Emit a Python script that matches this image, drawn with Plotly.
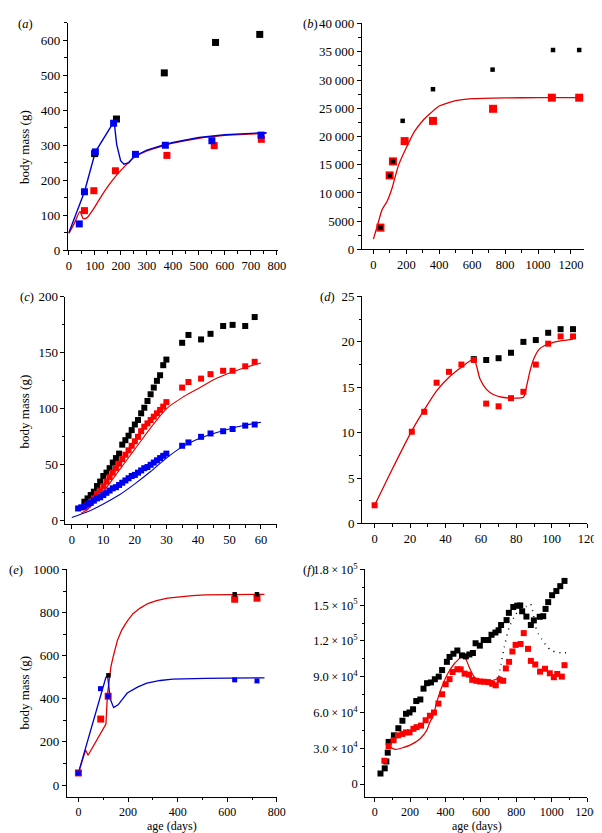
import plotly.graph_objects as go

# ---------------- data ----------------
# (a)
a_black_x = [99, 183, 367, 564, 734]
a_black_y = [276, 375, 507, 594, 617]
a_blue_x = [40, 60, 102, 172, 256, 371, 550, 739]
a_blue_y = [75, 167, 281, 363, 274, 300, 313, 329]
a_red_x = [60, 96, 179, 377, 559, 740]
a_red_y = [113, 170, 227, 271, 299, 317]
a_redfit_x = [0, 20, 43, 55, 70, 100, 130, 168, 200, 250, 300, 370, 400, 500, 600, 700, 760]
a_redfit_y = [48, 75, 111, 90, 93, 124, 160, 200, 228, 265, 284, 300, 306, 320, 328, 332, 334]
a_bluefit_x = [0, 30, 60, 102, 140, 174, 184, 199, 212, 231, 250, 300, 370, 400, 500, 600, 700, 760]
a_bluefit_y = [50, 108, 167, 281, 327, 368, 302, 256, 246, 250, 268, 286, 302, 308, 322, 330, 334, 336]

# (b)
b_black_x = [43, 99, 119, 178, 362, 724, 1091, 1250]
b_black_y = [3870, 13115, 15600, 22775, 28380, 31850, 35320, 35320]
b_red_x = [43, 99, 119, 190, 362, 727, 1084, 1250]
b_red_y = [3870, 13115, 15600, 19190, 22770, 24910, 26880, 26880]
b_fit_x = [0, 24, 53, 83, 113, 152, 200, 250, 300, 350, 400, 500, 600, 800, 1000, 1260]
b_fit_y = [1840, 4160, 7040, 8500, 10800, 14850, 18000, 20900, 22800, 24200, 25400, 26350, 26700, 26850, 26880, 26880]

# (c)
c_black_x = [4, 5, 6, 7, 8, 9, 10, 11, 12, 13, 14, 15, 16, 17, 18, 19, 20, 21, 22, 23, 24, 25, 26, 27, 28, 29, 30,
             35, 37, 41, 44, 48, 51, 55, 58]
c_black_y = [17, 20, 23, 26, 31, 35, 40, 43, 47, 52, 56, 60, 68, 72, 76, 81, 86, 90, 96, 101, 107, 113, 119, 125, 130, 139, 144,
             159, 166, 162, 167, 174, 175, 174, 182]
c_red_x = [4, 5, 6, 7, 8, 9, 10, 11, 12, 13, 14, 15, 16, 17, 18, 19, 20, 21, 22, 23, 24, 25, 26, 27, 28, 29, 30,
           35, 37, 41, 44, 48, 51, 55, 58]
c_red_y = [12, 14, 17, 20, 24, 27, 31, 35, 39, 43, 47, 51, 55, 59, 63, 67, 71, 75, 80, 84, 87, 90, 93, 96, 99, 102, 106,
           119, 124, 127, 131, 134, 134, 138, 142]
c_blue_x = [2, 3, 4, 5, 6, 7, 8, 9, 10, 11, 12, 13, 14, 15, 16, 17, 18, 19, 20, 21, 22, 23, 24, 25, 26, 27, 28, 29, 30,
            35, 37, 41, 44, 48, 51, 55, 58]
c_blue_y = [11, 12, 13, 15, 16, 18, 20, 21, 23, 25, 27, 29, 30, 32, 34, 36, 38, 40, 41, 43, 45, 47, 48, 50, 52, 54, 56, 58, 60,
            67, 70, 75, 78, 80, 82, 85, 86]
c_redfit_x = [3, 5, 10, 15, 20, 25, 30, 35, 40, 45, 50, 55, 60]
c_redfit_y = [7, 10, 26, 45, 64, 83, 100, 110, 118, 126, 132, 137, 141]
c_bluefit_x = [0, 5, 10, 15, 20, 25, 30, 35, 40, 45, 50, 55, 60]
c_bluefit_y = [3, 8, 15, 23, 33, 44, 56, 66, 73, 78, 82, 85.5, 88]

# (d)
d_red_x = [0, 21, 28, 35, 42, 49, 56, 63, 70, 77, 84, 91, 98, 105, 112]
d_red_y = [2.0, 10.1, 12.3, 15.5, 16.7, 17.5, 18.0, 13.2, 12.9, 13.8, 14.5, 17.5, 19.8, 20.6, 20.6]
d_black_x = [56, 63, 70, 77, 84, 91, 98, 105, 112]
d_black_y = [18.1, 18.0, 18.2, 18.8, 20.0, 20.2, 21.0, 21.4, 21.4]
d_fit_x = [0, 10, 21, 28, 35, 42, 49, 56, 59.5, 63, 67, 72, 78, 84, 86, 88, 90, 93, 96, 100, 105, 112]
d_fit_y = [2.0, 6.0, 10.2, 12.5, 14.6, 16.1, 17.2, 18.1, 15.9, 14.8, 14.2, 13.9, 13.8, 13.9, 15.3, 17.0, 18.2, 19.2, 19.6, 19.9, 20.1, 20.3]

# (e)
e_red_x = [0, 90, 120, 630, 720]
e_red_y = [56, 306, 412, 862, 867]
e_blue_x = [0, 89, 120, 630, 720]
e_blue_y = [56, 447, 412, 488, 483]
e_black_x = [121, 630, 720]
e_black_y = [509, 885, 885]
e_redfit_x = [0, 29, 39, 111, 117, 124, 131, 140, 157, 175, 197, 220, 249, 280, 315, 360, 407, 460, 512, 600, 750]
e_redfit_y = [56, 162, 138, 283, 420, 500, 548, 595, 670, 720, 760, 795, 821, 842, 856, 867, 874, 879, 882, 884, 885]
e_bluefit_x = [0, 111, 118, 128, 142, 160, 197, 240, 276, 330, 380, 450, 512, 600, 750]
e_bluefit_y = [56, 500, 505, 400, 359, 372, 427, 455, 473, 485, 491, 494, 495, 496, 497]

# (f)
f_black_x = [33, 57, 66, 74, 79, 109, 134, 157, 177, 197, 217, 235, 258, 276, 296, 318, 340, 362, 381, 408,
             423, 445, 467, 493, 515, 535, 555, 570, 594, 616, 642, 660, 682, 700, 714, 745, 758, 783, 805, 822,
             833, 857, 882, 899, 932, 952, 965, 980, 1002, 1026, 1048, 1072]
f_black_y = [8800, 13150, 18900, 26300, 35300, 40800, 46800, 53100, 58900, 60000, 62700, 69600, 70900, 80000, 84600,
             85200, 87900, 90100, 95600, 102500, 106600, 109300, 112000, 107900, 107100, 108700, 109900, 118100, 116100,
             120800, 120800, 125200, 127100, 129000, 133400, 137500, 143600, 148500, 149600, 149800, 144900, 140500,
             133400, 137300, 140300, 140800, 146900, 152600, 158400, 161900, 166000, 170400]
f_red_x = [55, 79, 107, 132, 157, 177, 197, 219, 237, 262, 288, 312, 335, 360, 381, 401, 423, 440, 467, 486,
           508, 533, 551, 575, 595, 618, 640, 664, 684, 706, 726, 741, 759, 778, 796, 824, 842, 866, 882, 907,
           934, 962, 989, 1012, 1031, 1057, 1072]
f_red_y = [19500, 31800, 36700, 40800, 42000, 43300, 43300, 46300, 47700, 49000, 53500, 57300, 60000, 67500, 75300,
           83700, 88000, 94000, 96300, 96200, 92600, 91800, 87400, 86600, 86000, 85800, 85500, 84100, 82800, 87400,
           86600, 97000, 102500, 111200, 116700, 117500, 126600, 113400, 103300, 100300, 94300, 96700, 92900, 89600,
           92300, 90100, 99700]
f_redfit_x = [80, 100, 120, 160, 200, 257, 294, 312, 331, 350, 377, 414, 451, 478, 500, 515, 533, 561, 588, 630, 680, 700, 710]
f_redfit_y = [33000, 30000, 29000, 30500, 32600, 38000, 45000, 51800, 57300, 68200, 80500, 92900, 101100, 105200,
              109000, 105200, 98400, 90100, 87400, 86500, 87500, 89000, 90600]
f_dot_x = [700, 714, 732, 759, 796, 830, 857, 880, 895, 907, 925, 943, 970, 998, 1030, 1053, 1100]
f_dot_y = [90000, 101000, 114800, 131200, 142200, 147500, 149000, 151000, 143000, 132600, 126000, 121600, 116000,
           112000, 110500, 110100, 110100]

b_tickvals = [0, 5000, 10000, 15000, 20000, 25000, 30000, 35000, 40000]
b_ticktext = ["0", "5000", "10\u2009000", "15\u2009000", "20\u2009000", "25\u2009000", "30\u2009000", "35\u2009000", "40\u2009000"]
f_tickvals = [0, 30000, 60000, 90000, 120000, 150000, 180000]
f_ticktext = ["0", "3.0\u2009×\u200910<sup>4</sup>", "6.0\u2009×\u200910<sup>4</sup>", "9.0\u2009×\u200910<sup>4</sup>",
              "1.2\u2009×\u200910<sup>5</sup>", "1.5\u2009×\u200910<sup>5</sup>", "1.8\u2009×\u200910<sup>5</sup>"]

# ---------------- figure ----------------
W, H = 602, 833
RED = "#ff0000"
BLUE = "#0000f0"
REDL = "#e00000"
BLUEL = "#0000cc"
FONT = "Liberation Serif"

fig = go.Figure()


def pts(x, y, ax, color, size):
    fig.add_trace(go.Scatter(x=x, y=y, mode="markers", xaxis="x" + ax, yaxis="y" + ax,
                             marker=dict(symbol="square", size=size, color=color, line=dict(width=0)),
                             showlegend=False, cliponaxis=False))


def line(x, y, ax, color, width=1.2, dash="solid", shape="spline"):
    fig.add_trace(go.Scatter(x=x, y=y, mode="lines", xaxis="x" + ax, yaxis="y" + ax,
                             line=dict(color=color, width=width, dash=dash, shape=shape, smoothing=0.6),
                             showlegend=False))


# (a)
line(a_redfit_x, a_redfit_y, "", REDL, 1.3)
line(a_bluefit_x, a_bluefit_y, "", BLUEL, 1.4, shape="linear")
pts(a_red_x, a_red_y, "", RED, 7)
pts(a_black_x, a_black_y, "", "black", 7)
pts(a_blue_x, a_blue_y, "", BLUE, 7)
# (b)
line(b_fit_x, b_fit_y, "2", REDL, 1.3)
pts(b_red_x, b_red_y, "2", RED, 8)
pts(b_black_x, b_black_y, "2", "black", 4.5)
# (c)
line(c_redfit_x, c_redfit_y, "3", REDL, 1.1)
line(c_bluefit_x, c_bluefit_y, "3", BLUEL, 1.1)
pts(c_black_x, c_black_y, "3", "black", 6)
pts(c_red_x, c_red_y, "3", RED, 6)
pts(c_blue_x, c_blue_y, "3", BLUE, 6)
# (d)
line(d_fit_x, d_fit_y, "4", REDL, 1.3)
pts(d_black_x, d_black_y, "4", "black", 6)
pts(d_red_x, d_red_y, "4", RED, 6)
# (e)
line(e_redfit_x, e_redfit_y, "5", REDL, 1.3, shape="linear")
line(e_bluefit_x, e_bluefit_y, "5", BLUEL, 1.3, shape="linear")
pts(e_red_x, e_red_y, "5", RED, 7)
pts(e_blue_x, e_blue_y, "5", BLUE, 5)
pts(e_black_x, e_black_y, "5", "black", 4.5)
# (f)
line(f_redfit_x, f_redfit_y, "6", REDL, 1.2)
line(f_dot_x, f_dot_y, "6", "black", 1.5, dash="1px,5px")
pts(f_black_x, f_black_y, "6", "black", 6)
pts(f_red_x, f_red_y, "6", RED, 6)


def xdom(p0, p1):
    return [p0 / W, p1 / W]


def ydom(top, bottom):
    return [(H - bottom) / H, (H - top) / H]


def axis(dom, rng, dtick, minor, anchor, tickvals=None, ticktext=None, fsize=13):
    d = dict(domain=dom, range=rng, anchor=anchor, showline=True, linecolor="black", linewidth=1,
             ticks="outside", ticklen=4, tickwidth=1, tickcolor="black", showgrid=False, zeroline=False,
             tickfont=dict(family=FONT, size=fsize, color="black"),
             minor=dict(ticks="outside", ticklen=2.5, tickcolor="black", dtick=minor, showgrid=False))
    if tickvals is not None:
        d.update(tickmode="array", tickvals=tickvals, ticktext=ticktext)
    else:
        d.update(tick0=0, dtick=dtick)
    return d


layout = dict(
    width=W, height=H, margin=dict(l=0, r=0, t=0, b=0),
    paper_bgcolor="white", plot_bgcolor="white", showlegend=False,
    xaxis=axis(xdom(59.2, 274.6), [-4, 805], 100, 50, "y", fsize=12.5),
    yaxis=axis(ydom(6, 238), [0, 650], 100, 50, "x"),
    xaxis2=axis(xdom(360.2, 587.8), [-70, 1280], 200, 100, "y2", fsize=12.5),
    yaxis2=axis(ydom(6.5, 237.3), [0, 40040], None, 2500, "x2", b_tickvals, b_ticktext),
    xaxis3=axis(xdom(56.8, 273.1), [-2, 65], 10, 5, "y3", fsize=12.5),
    yaxis3=axis(ydom(285.5, 517.7), [-3, 200.2], 50, 25, "x3"),
    xaxis4=axis(xdom(360.6, 590.9), [-7, 120], 20, 10, "y4", fsize=12.5),
    yaxis4=axis(ydom(285.2, 517), [0, 25.01], 5, 2.5, "x4"),
    xaxis5=axis(xdom(58.1, 273.2), [-47, 800], 200, 100, "y5", fsize=12),
    yaxis5=axis(ydom(563.8, 796.1), [-55, 1001], 200, 100, "x5"),
    xaxis6=axis(xdom(363.7, 590.9), [-53, 1200], 200, 100, "y6", fsize=12),
    yaxis6=axis(ydom(563.8, 796), [-10700, 180150], None, 15000, "x6", f_tickvals, f_ticktext, 12.5),
)
fig.update_layout(**layout)

annfont = dict(family=FONT, size=13, color="black")
anns = []
for py in (133, 403, 690):
    anns.append(dict(text="body mass (g)", x=15 / W, y=(H - py) / H, xref="paper", yref="paper",
                     showarrow=False, textangle=-90, font=annfont, xanchor="center", yanchor="middle"))
for px in (166, 478):
    anns.append(dict(text="age (days)", x=px / W, y=0.0, xref="paper", yref="paper",
                     showarrow=False, font=dict(family=FONT, size=12, color="black"),
                     xanchor="center", yanchor="bottom", yshift=-2))
labels = [("a", 16, 7), ("b", 308, 7), ("c", 17, 286), ("d", 325, 286), ("e", 6, 565), ("f", 306, 565)]
for lab, px, py in labels:
    anns.append(dict(text="(<i>" + lab + "</i>)", x=px / W, y=(H - py) / H, xref="paper", yref="paper",
                     showarrow=False, font=dict(family=FONT, size=12.5, color="black"),
                     xanchor="center", yanchor="middle"))
fig.update_layout(annotations=anns)

fig.write_html("out.html")
